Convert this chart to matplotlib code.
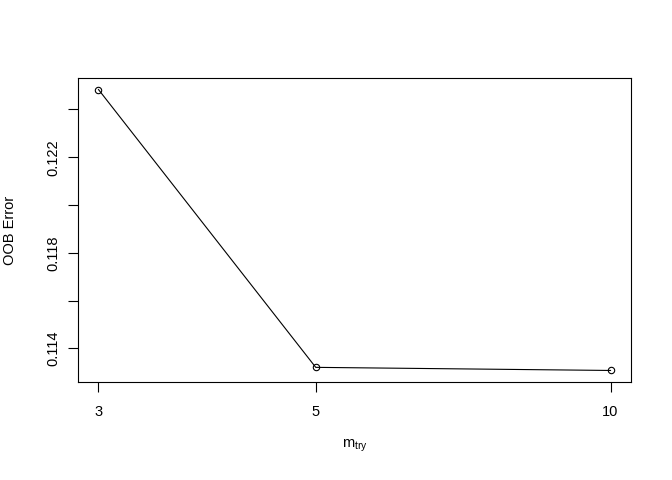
import matplotlib
matplotlib.use("Agg")
import matplotlib.pyplot as plt
import numpy as np

mtry = [3, 5, 10]
oob_error = [0.12483, 0.11321, 0.11308]
xticks = [3, 5, 10]
yticks = [0.114, 0.116, 0.118, 0.120, 0.122, 0.124]
ytick_labels = ["0.114", "", "0.118", "", "0.122", ""]

plt.rcParams['font.family'] = ['Liberation Sans', 'DejaVu Sans']
plt.rcParams['mathtext.default'] = 'regular'

fig = plt.figure(figsize=(6.72, 4.8), dpi=100)
ax = fig.add_axes([78/672, 1 - 381.7/480, (631-78)/672, (381.7-78.3)/480])

ax.plot(mtry, oob_error, color='black', linewidth=0.8, marker='o', markersize=4.6,
        markerfacecolor='none', markeredgecolor='black', markeredgewidth=0.8)
ax.set_xscale('log')
lx = np.log(mtry)
rx = lx.max() - lx.min()
ax.set_xlim(np.exp(lx.min() - 0.04*rx), np.exp(lx.max() + 0.04*rx))
ry = max(oob_error) - min(oob_error)
ax.set_ylim(min(oob_error) - 0.04*ry, max(oob_error) + 0.04*ry)

ax.set_xticks(xticks)
ax.set_xticklabels([str(v) for v in xticks])
ax.xaxis.set_minor_locator(matplotlib.ticker.NullLocator())
ax.set_yticks(yticks)
ax.set_yticklabels(ytick_labels, rotation=90, va='center')

ax.tick_params(axis='both', length=7.5, width=0.8, labelsize=10.5, color='black')
ax.tick_params(axis='x', pad=9)
ax.tick_params(axis='y', pad=5.5)
for s in ax.spines.values():
    s.set_linewidth(0.8)

ax.set_xlabel(r'$m_{try}$', fontsize=10.5, labelpad=14)
ax.set_ylabel('OOB Error', fontsize=10.5, labelpad=21)

fig.savefig('out.png', dpi=100)
